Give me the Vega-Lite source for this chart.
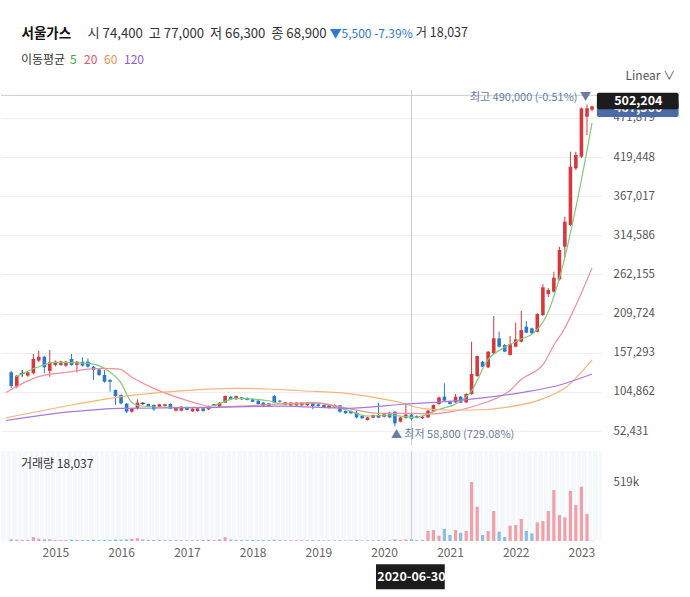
{
"$schema": "https://vega.github.io/schema/vega-lite/v6.json",
"padding": {"left": 0, "top": 26, "right": 0, "bottom": 0},
"background": "white",
"spacing": 4,
"config": {"font": "Noto Sans CJK KR", "view": {"stroke": null}},
"datasets": {
"candles": [
{"d":"2014-05-01","o":131000,"h":133000,"l":110000,"c":112700,"v":15000},
{"d":"2014-06-01","o":111800,"h":127500,"l":109600,"c":126600,"v":12000},
{"d":"2014-07-01","o":129500,"h":134200,"l":125200,"c":129500,"v":10000},
{"d":"2014-08-01","o":126600,"h":132000,"l":125000,"c":131000,"v":11000},
{"d":"2014-09-01","o":129700,"h":155600,"l":128500,"c":148900,"v":35000},
{"d":"2014-10-01","o":146700,"h":160100,"l":145000,"c":152000,"v":20000},
{"d":"2014-11-01","o":152000,"h":153000,"l":129700,"c":137700,"v":14000},
{"d":"2014-12-01","o":133000,"h":161000,"l":125000,"c":144500,"v":16000},
{"d":"2015-01-01","o":141000,"h":147000,"l":139000,"c":145300,"v":9000},
{"d":"2015-02-01","o":141000,"h":146500,"l":139500,"c":145500,"v":8000},
{"d":"2015-03-01","o":140000,"h":146000,"l":138500,"c":145300,"v":9000},
{"d":"2015-04-01","o":148900,"h":155600,"l":140000,"c":140900,"v":12000},
{"d":"2015-05-01","o":141000,"h":146000,"l":131000,"c":145300,"v":10000},
{"d":"2015-06-01","o":145300,"h":151100,"l":139000,"c":140000,"v":9000},
{"d":"2015-07-01","o":145300,"h":149800,"l":137500,"c":138600,"v":9000},
{"d":"2015-08-01","o":138600,"h":139500,"l":120800,"c":134200,"v":11000},
{"d":"2015-09-01","o":135000,"h":136000,"l":126000,"c":127500,"v":8000},
{"d":"2015-10-01","o":127500,"h":134200,"l":117000,"c":118500,"v":9000},
{"d":"2015-11-01","o":120800,"h":122000,"l":105100,"c":118500,"v":10000},
{"d":"2015-12-01","o":107400,"h":108000,"l":87300,"c":99300,"v":13000},
{"d":"2016-01-01","o":100700,"h":101500,"l":88000,"c":89500,"v":12000},
{"d":"2016-02-01","o":89000,"h":90000,"l":76500,"c":78300,"v":14000},
{"d":"2016-03-01","o":78300,"h":83500,"l":77000,"c":82800,"v":20000},
{"d":"2016-04-01","o":82800,"h":94900,"l":81000,"c":90400,"v":25000},
{"d":"2016-05-01","o":89500,"h":91000,"l":87500,"c":89500,"v":15000},
{"d":"2016-06-01","o":88600,"h":89000,"l":84500,"c":85000,"v":10000},
{"d":"2016-07-01","o":87300,"h":88000,"l":79700,"c":81500,"v":9000},
{"d":"2016-08-01","o":85000,"h":89000,"l":84000,"c":88200,"v":8000},
{"d":"2016-09-01","o":86000,"h":89000,"l":85000,"c":88200,"v":7000},
{"d":"2016-10-01","o":88600,"h":89500,"l":82000,"c":82400,"v":8000},
{"d":"2016-11-01","o":79700,"h":84000,"l":78500,"c":83700,"v":9000},
{"d":"2016-12-01","o":79700,"h":85500,"l":79000,"c":85000,"v":7000},
{"d":"2017-01-01","o":84000,"h":85000,"l":80000,"c":80600,"v":6000},
{"d":"2017-02-01","o":78800,"h":83000,"l":78000,"c":82400,"v":7000},
{"d":"2017-03-01","o":79200,"h":83500,"l":78500,"c":82800,"v":8000},
{"d":"2017-04-01","o":82800,"h":83500,"l":78500,"c":79200,"v":9000},
{"d":"2017-05-01","o":81500,"h":86500,"l":80500,"c":86000,"v":10000},
{"d":"2017-06-01","o":87300,"h":88500,"l":86000,"c":87300,"v":9000},
{"d":"2017-07-01","o":85000,"h":91000,"l":84500,"c":90400,"v":14000},
{"d":"2017-08-01","o":90400,"h":100000,"l":90000,"c":99300,"v":35000},
{"d":"2017-09-01","o":98400,"h":99500,"l":94000,"c":94900,"v":12000},
{"d":"2017-10-01","o":94900,"h":100000,"l":94500,"c":99300,"v":10000},
{"d":"2017-11-01","o":97500,"h":98000,"l":94000,"c":94900,"v":8000},
{"d":"2017-12-01","o":96600,"h":97500,"l":93500,"c":94000,"v":7000},
{"d":"2018-01-01","o":94900,"h":96000,"l":91000,"c":91700,"v":9000},
{"d":"2018-02-01","o":93100,"h":94000,"l":88000,"c":88600,"v":7000},
{"d":"2018-03-01","o":90400,"h":91000,"l":85500,"c":85900,"v":8000},
{"d":"2018-04-01","o":89500,"h":90000,"l":85500,"c":85900,"v":7000},
{"d":"2018-05-01","o":99300,"h":100700,"l":89500,"c":90400,"v":12000},
{"d":"2018-06-01","o":93000,"h":94000,"l":90500,"c":91700,"v":8000},
{"d":"2018-07-01","o":87700,"h":91500,"l":87000,"c":90800,"v":7000},
{"d":"2018-08-01","o":86800,"h":91000,"l":86000,"c":90400,"v":6000},
{"d":"2018-09-01","o":86800,"h":91000,"l":86000,"c":90400,"v":6000},
{"d":"2018-10-01","o":86800,"h":91000,"l":86000,"c":90400,"v":7000},
{"d":"2018-11-01","o":86800,"h":91000,"l":86000,"c":90400,"v":6000},
{"d":"2018-12-01","o":90400,"h":91000,"l":81500,"c":85900,"v":8000},
{"d":"2019-01-01","o":88200,"h":89000,"l":85000,"c":85900,"v":6000},
{"d":"2019-02-01","o":87300,"h":88000,"l":83500,"c":84100,"v":5000},
{"d":"2019-03-01","o":83200,"h":87500,"l":82500,"c":86800,"v":6000},
{"d":"2019-04-01","o":84100,"h":88000,"l":83500,"c":87300,"v":5000},
{"d":"2019-05-01","o":86800,"h":87500,"l":77000,"c":78300,"v":7000},
{"d":"2019-06-01","o":79200,"h":80000,"l":75500,"c":76100,"v":5000},
{"d":"2019-07-01","o":79200,"h":80000,"l":75500,"c":76100,"v":5000},
{"d":"2019-08-01","o":77000,"h":79700,"l":69400,"c":70700,"v":8000},
{"d":"2019-09-01","o":72500,"h":73500,"l":69000,"c":69400,"v":5000},
{"d":"2019-10-01","o":67200,"h":71500,"l":66500,"c":70700,"v":6000},
{"d":"2019-11-01","o":70300,"h":74500,"l":69500,"c":73900,"v":5000},
{"d":"2019-12-01","o":73900,"h":90400,"l":69800,"c":70300,"v":9000},
{"d":"2020-01-01","o":71600,"h":75500,"l":70500,"c":74800,"v":6000},
{"d":"2020-02-01","o":77000,"h":78000,"l":70000,"c":70700,"v":7000},
{"d":"2020-03-01","o":78300,"h":79000,"l":58800,"c":62700,"v":15000},
{"d":"2020-04-01","o":65000,"h":71500,"l":64000,"c":70700,"v":9000},
{"d":"2020-05-01","o":70000,"h":89500,"l":69000,"c":74400,"v":14000},
{"d":"2020-06-01","o":74400,"h":77000,"l":66300,"c":68900,"v":18037},
{"d":"2020-07-01","o":72500,"h":73500,"l":69500,"c":70300,"v":8000},
{"d":"2020-08-01","o":69400,"h":72500,"l":68500,"c":71600,"v":10000},
{"d":"2020-09-01","o":70700,"h":80500,"l":70000,"c":79700,"v":88000},
{"d":"2020-10-01","o":78300,"h":88000,"l":77500,"c":87300,"v":97000},
{"d":"2020-11-01","o":88600,"h":98500,"l":87500,"c":97500,"v":47000},
{"d":"2020-12-01","o":98400,"h":116300,"l":92500,"c":93100,"v":106000},
{"d":"2021-01-01","o":91700,"h":93000,"l":88000,"c":88600,"v":53000},
{"d":"2021-02-01","o":90800,"h":102000,"l":90000,"c":98400,"v":97000},
{"d":"2021-03-01","o":98400,"h":99500,"l":90000,"c":90400,"v":73000},
{"d":"2021-04-01","o":90800,"h":103000,"l":90000,"c":102000,"v":88000},
{"d":"2021-05-01","o":102000,"h":172100,"l":101000,"c":128800,"v":519000},
{"d":"2021-06-01","o":126100,"h":153500,"l":125000,"c":152900,"v":302000},
{"d":"2021-07-01","o":145300,"h":146500,"l":138000,"c":138600,"v":53000},
{"d":"2021-08-01","o":137700,"h":159500,"l":137000,"c":158700,"v":88000},
{"d":"2021-09-01","o":156500,"h":206500,"l":155500,"c":176600,"v":264000},
{"d":"2021-10-01","o":176600,"h":185500,"l":164500,"c":165400,"v":82000},
{"d":"2021-11-01","o":167700,"h":169000,"l":158000,"c":158700,"v":35000},
{"d":"2021-12-01","o":154300,"h":179700,"l":153500,"c":169000,"v":135000},
{"d":"2022-01-01","o":165400,"h":197600,"l":164500,"c":175200,"v":141000},
{"d":"2022-02-01","o":172100,"h":213200,"l":171500,"c":187800,"v":194000},
{"d":"2022-03-01","o":192200,"h":199800,"l":183500,"c":184200,"v":88000},
{"d":"2022-04-01","o":190000,"h":191000,"l":182500,"c":183300,"v":67000},
{"d":"2022-05-01","o":185500,"h":210000,"l":184500,"c":209200,"v":164000},
{"d":"2022-06-01","o":207800,"h":249000,"l":206500,"c":245000,"v":176000},
{"d":"2022-07-01","o":236000,"h":244000,"l":232000,"c":241300,"v":264000},
{"d":"2022-08-01","o":239100,"h":265900,"l":238000,"c":257900,"v":449000},
{"d":"2022-09-01","o":255600,"h":299400,"l":254000,"c":295000,"v":229000},
{"d":"2022-10-01","o":299400,"h":339600,"l":285000,"c":332900,"v":208000},
{"d":"2022-11-01","o":328500,"h":426700,"l":327000,"c":406600,"v":440000},
{"d":"2022-12-01","o":404400,"h":426700,"l":402200,"c":422300,"v":317000},
{"d":"2023-01-01","o":420000,"h":486000,"l":418000,"c":484800,"v":478000},
{"d":"2023-02-01","o":473600,"h":490000,"l":449100,"c":485000,"v":238000},
{"d":"2023-03-01","o":483000,"h":488500,"l":481000,"c":487500,"v":4000}
],
"ma": [
{"d":"2014-05-26","ma":"5","v":125200},{"d":"2014-09-30","ma":"5","v":138600},{"d":"2015-01-01","ma":"5","v":144500},{"d":"2015-06-29","ma":"5","v":143100},{"d":"2015-09-30","ma":"5","v":136400},{"d":"2016-01-02","ma":"5","v":116300},{"d":"2016-02-26","ma":"5","v":91700},{"d":"2016-04-20","ma":"5","v":85900},{"d":"2016-10-01","ma":"5","v":84200},{"d":"2017-03-29","ma":"5","v":84200},{"d":"2017-06-09","ma":"5","v":87300},{"d":"2017-09-27","ma":"5","v":96200},{"d":"2018-03-30","ma":"5","v":93000},{"d":"2018-06-10","ma":"5","v":88600},{"d":"2018-09-27","ma":"5","v":88600},{"d":"2018-12-07","ma":"5","v":90000},{"d":"2019-06-10","ma":"5","v":80600},{"d":"2019-09-28","ma":"5","v":72500},{"d":"2020-02-02","ma":"5","v":73900},{"d":"2020-06-06","ma":"5","v":70800},{"d":"2020-07-30","ma":"5","v":72500},{"d":"2020-11-01","ma":"5","v":81500},{"d":"2021-02-02","ma":"5","v":88600},{"d":"2021-04-28","ma":"5","v":105100},{"d":"2021-07-30","ma":"5","v":147600},{"d":"2021-11-01","ma":"5","v":164600},{"d":"2022-01-28","ma":"5","v":175300},{"d":"2022-04-13","ma":"5","v":184200},{"d":"2022-06-23","ma":"5","v":207900},{"d":"2022-09-03","ma":"5","v":259200},{"d":"2022-10-27","ma":"5","v":312300},{"d":"2022-12-21","ma":"5","v":375400},{"d":"2023-03-01","ma":"5","v":465000},
{"d":"2014-04-02","ma":"20","v":104000},{"d":"2014-09-30","ma":"20","v":125200},{"d":"2015-04-03","ma":"20","v":131900},{"d":"2015-06-29","ma":"20","v":135400},{"d":"2015-09-30","ma":"20","v":136400},{"d":"2015-12-25","ma":"20","v":135400},{"d":"2016-02-26","ma":"20","v":125200},{"d":"2016-06-30","ma":"20","v":109600},{"d":"2016-11-25","ma":"20","v":96200},{"d":"2017-03-29","ma":"20","v":87300},{"d":"2017-05-23","ma":"20","v":84200},{"d":"2017-12-28","ma":"20","v":86600},{"d":"2018-06-10","ma":"20","v":88600},{"d":"2018-12-07","ma":"20","v":90400},{"d":"2019-06-10","ma":"20","v":82800},{"d":"2019-12-08","ma":"20","v":76100},{"d":"2020-06-06","ma":"20","v":76100},{"d":"2020-09-07","ma":"20","v":75200},{"d":"2021-01-11","ma":"20","v":78300},{"d":"2021-06-06","ma":"20","v":87300},{"d":"2021-07-30","ma":"20","v":91700},{"d":"2021-12-04","ma":"20","v":107400},{"d":"2022-01-28","ma":"20","v":120800},{"d":"2022-06-07","ma":"20","v":143100},{"d":"2022-08-01","ma":"20","v":167600},{"d":"2022-09-25","ma":"20","v":187800},{"d":"2022-11-19","ma":"20","v":214600},{"d":"2023-03-01","ma":"20","v":271000},
{"d":"2014-04-02","ma":"60","v":70000},{"d":"2015-04-03","ma":"60","v":87300},{"d":"2016-01-02","ma":"60","v":98400},{"d":"2016-10-01","ma":"60","v":105100},{"d":"2017-09-27","ma":"60","v":109600},{"d":"2018-03-30","ma":"60","v":108700},{"d":"2018-09-27","ma":"60","v":106400},{"d":"2019-06-10","ma":"60","v":102900},{"d":"2020-03-10","ma":"60","v":91700},{"d":"2020-07-30","ma":"60","v":82800},{"d":"2020-12-09","ma":"60","v":80600},{"d":"2021-04-28","ma":"60","v":80600},{"d":"2021-12-04","ma":"60","v":85000},{"d":"2022-06-07","ma":"60","v":96200},{"d":"2022-10-11","ma":"60","v":111800},{"d":"2023-03-01","ma":"60","v":147600},
{"d":"2014-04-02","ma":"120","v":66500},{"d":"2015-04-03","ma":"120","v":78300},{"d":"2016-01-02","ma":"120","v":82800},{"d":"2017-03-29","ma":"120","v":83700},{"d":"2018-06-10","ma":"120","v":85900},{"d":"2019-06-10","ma":"120","v":82800},{"d":"2020-05-03","ma":"120","v":88600},{"d":"2020-12-09","ma":"120","v":91700},{"d":"2021-06-06","ma":"120","v":96200},{"d":"2022-03-05","ma":"120","v":105100},{"d":"2022-09-03","ma":"120","v":114100},{"d":"2023-03-01","ma":"120","v":128800}
],
"cross": [{"d":"2020-06-01","p":502204}]
},
"vconcat": [
{
"width": 600, "height": 355,
"title": {"text": "거 18,037", "anchor": "start", "dx": 415, "dy": 13, "fontSize": 12.5, "fontWeight": "normal", "color": "#333333", "offset": 0},
"layer": [
{"data": {"name": "cross"}, "mark": {"type": "rule", "color": "#c9ced6", "strokeWidth": 1},
 "encoding": {"x": {"field": "d", "type": "temporal", "scale": {"type": "utc", "domain": [{"year":2014,"month":4,"date":2,"utc":true},{"year":2023,"month":3,"date":23,"utc":true}]}, "axis": null}}},
{"data": {"name": "cross"}, "mark": {"type": "rule", "color": "#c9ced6", "strokeWidth": 1},
 "encoding": {"y": {"field": "p", "type": "quantitative", "scale": {"domain": [33670, 509400], "nice": false, "zero": false}, "axis": null}}},
{"data": {"name": "candles"}, "mark": {"type": "rule", "strokeWidth": 1},
 "encoding": {
  "x": {"field": "d", "type": "temporal", "scale": {"type": "utc", "domain": [{"year":2014,"month":4,"date":2,"utc":true},{"year":2023,"month":3,"date":23,"utc":true}]},
        "axis": {"orient": "top", "labels": false, "ticks": false, "domain": false, "grid": false, "title": "서울가스", "titleX": 20, "titleY": -57, "titleAlign": "left", "titleBaseline": "middle", "titleAngle": 0, "titleFontSize": 13.5, "titleFontWeight": "bold", "titleColor": "#111111"}},
  "y": {"field": "l", "type": "quantitative", "scale": {"domain": [33670, 509400], "nice": false, "zero": false},
        "axis": {"orient": "right", "values": [52431,104862,157293,209724,262155,314586,367017,419448,471879], "format": ",d", "labelColor": "#555555", "labelFontSize": 11.5, "ticks": false, "domain": false, "labelPadding": 12, "grid": true, "gridColor": "#eeeeee", "title": "Linear ∨", "titleX": 24, "titleY": -15, "titleAngle": 0, "titleAlign": "left", "titleBaseline": "middle", "titleFontSize": 12, "titleFontWeight": "normal", "titleColor": "#555555"}},
  "y2": {"field": "h"},
  "color": {"condition": [{"test": "datum.c > datum.o", "value": "#d6383d"}, {"test": "datum.c < datum.o", "value": "#2e78cc"}], "value": "#222222"}
 }},
{"data": {"name": "candles"}, "mark": {"type": "bar", "width": 3.6},
 "encoding": {
  "x": {"field": "d", "type": "temporal", "scale": {"type": "utc", "domain": [{"year":2014,"month":4,"date":2,"utc":true},{"year":2023,"month":3,"date":23,"utc":true}]},
        "axis": {"orient": "bottom", "labels": false, "ticks": false, "domain": false, "grid": false, "title": "시 74,400\u00a0 고 77,000\u00a0 저 66,300\u00a0 종 68,900", "titleX": 86, "titleY": -412, "titleAlign": "left", "titleBaseline": "middle", "titleAngle": 0, "titleFontSize": 13.2, "titleFontWeight": "normal", "titleColor": "#333333"}},
  "y": {"field": "o", "type": "quantitative", "scale": {"domain": [33670, 509400], "nice": false, "zero": false},
        "axis": {"orient": "left", "labels": false, "ticks": false, "domain": false, "grid": false, "title": "▼5,500 -7.39%", "titleX": 328, "titleY": -57, "titleAngle": 0, "titleAlign": "left", "titleBaseline": "middle", "titleFontSize": 12, "titleFontWeight": "normal", "titleColor": "#2f7ad0"}},
  "y2": {"field": "c"},
  "color": {"condition": [{"test": "datum.c > datum.o", "value": "#d6383d"}, {"test": "datum.c < datum.o", "value": "#2e78cc"}], "value": "#222222"}
 }},
{"data": {"name": "candles"}, "transform": [{"filter": "datum.o == datum.c"}], "mark": {"type": "tick", "orient": "horizontal", "size": 5, "thickness": 1.2, "color": "#222222"},
 "encoding": {
  "x": {"field": "d", "type": "temporal", "axis": null},
  "y": {"field": "c", "type": "quantitative", "axis": null}
 }},
{"data": {"name": "ma"}, "mark": {"type": "line", "interpolate": "monotone", "strokeWidth": 1.2, "clip": true},
 "encoding": {
  "x": {"field": "d", "type": "temporal", "axis": null},
  "y": {"field": "v", "type": "quantitative", "axis": null},
  "color": {"field": "ma", "type": "nominal", "sort": ["5","20","60","120"],
   "scale": {"domain": ["5","20","60","120"], "range": ["#7ccc78","#f0909a","#f5b57c","#a878e0"]},
   "legend": {"orient": "none", "legendX": 20, "legendY": -36, "direction": "horizontal", "title": "이동평균", "titleOrient": "left", "titleFontSize": 12, "titleFontWeight": "normal", "titleColor": "#333333", "titlePadding": 6,
     "symbolSize": 0, "symbolStrokeWidth": 0, "symbolOpacity": 0, "labelOffset": -14, "columnPadding": 6, "labelFontSize": 12,
     "labelColor": {"expr": "datum.value == '5' ? '#3fa33f' : datum.value == '20' ? '#e5535b' : datum.value == '60' ? '#e8924f' : '#8a5bd4'"}}}
 }},
{"data": {"values": [{"d":"2023-02-01","p":490000,"t":"최고 490,000 (-0.51%) ▼"}]}, "mark": {"type": "text", "align": "right", "baseline": "bottom", "dx": 4, "dy": -1, "fontSize": 11, "color": "#6b7ca0"},
 "encoding": {"x": {"field": "d", "type": "temporal", "axis": null}, "y": {"field": "p", "type": "quantitative", "axis": null}, "text": {"field": "t"}}},
{"data": {"values": [{"d":"2020-03-01","p":58800,"t":"▲ 최저 58,800 (729.08%)"}]}, "mark": {"type": "text", "align": "left", "baseline": "top", "dx": -4, "dy": 3, "fontSize": 11, "color": "#6b7ca0"},
 "encoding": {"x": {"field": "d", "type": "temporal", "axis": null}, "y": {"field": "p", "type": "quantitative", "axis": null}, "text": {"field": "t"}}},
{"data": {"values": [{}]}, "mark": {"type": "rect", "color": "#4a6aa8", "cornerRadius": 2},
 "encoding": {"x": {"datum": {"year":2023,"month":3,"date":28,"utc":true}, "type": "temporal", "axis": null}, "x2": {"datum": {"year":2024,"month":6,"date":24,"utc":true}},
  "y": {"datum": 494631, "type": "quantitative", "axis": null}, "y2": {"datum": 473191}}},
{"data": {"values": [{}]}, "mark": {"type": "text", "color": "white", "fontSize": 12.5, "fontWeight": "bold", "text": "487,500"},
 "encoding": {"x": {"datum": {"year":2023,"month":11,"date":13,"utc":true}, "type": "temporal", "axis": null}, "y": {"datum": 485251, "type": "quantitative", "axis": null}}},
{"data": {"values": [{}]}, "mark": {"type": "rect", "color": "#1c1c1c", "cornerRadius": 2},
 "encoding": {"x": {"datum": {"year":2023,"month":3,"date":28,"utc":true}, "type": "temporal", "axis": null}, "x2": {"datum": {"year":2024,"month":6,"date":24,"utc":true}},
  "y": {"datum": 505753, "type": "quantitative", "axis": null}, "y2": {"datum": 483509}}},
{"data": {"values": [{}]}, "mark": {"type": "text", "color": "white", "fontSize": 12.5, "fontWeight": "bold", "text": "502,204"},
 "encoding": {"x": {"datum": {"year":2023,"month":11,"date":13,"utc":true}, "type": "temporal", "axis": null}, "y": {"datum": 494631, "type": "quantitative", "axis": null}}}
],
"resolve": {"axis": {"x": "independent", "y": "independent"}}
},
{
"width": 600, "height": 90,
"view": {"fill": "#f4f7fb"},
"title": {"text": "거래량 18,037", "anchor": "start", "dx": 20, "dy": 20, "fontSize": 12, "fontWeight": "normal", "color": "#333333", "offset": 0},
"layer": [
{"data": {"name": "candles"}, "mark": {"type": "bar", "width": 3.2},
 "encoding": {
  "x": {"field": "d", "type": "temporal", "scale": {"type": "utc", "domain": [{"year":2014,"month":4,"date":2,"utc":true},{"year":2023,"month":3,"date":23,"utc":true}]},
        "axis": {"orient": "bottom", "tickCount": {"interval": "month", "step": 1}, "labelExpr": "utcmonth(datum.value) == 0 ? utcFormat(datum.value, '%Y') : ''", "ticks": false, "domain": false, "grid": true, "gridColor": "#ffffff", "gridWidth": 1.5, "labelOverlap": false, "labelFlush": false, "labelBound": false, "labelPadding": 6, "labelColor": "#666666", "labelFontSize": 12, "title": null}},
  "y": {"field": "v", "type": "quantitative", "scale": {"domain": [0, 791700], "nice": false},
        "axis": {"orient": "right", "values": [519000], "format": "~s", "ticks": false, "domain": false, "grid": false, "labelPadding": 12, "labelColor": "#555555", "labelFontSize": 11.5, "title": null}},
  "color": {"condition": [{"test": "datum.c > datum.o", "value": "#f0a1a7"}, {"test": "datum.c < datum.o", "value": "#8dbde6"}], "value": "#bbbbbb"}
 }},
{"data": {"name": "cross"}, "mark": {"type": "rule", "color": "#c9ced6", "strokeWidth": 1},
 "encoding": {"x": {"field": "d", "type": "temporal", "axis": null}}},
{"data": {"values": [{}]}, "mark": {"type": "rect", "color": "#1c1c1c"},
 "encoding": {"x": {"datum": {"year":2019,"month":11,"date":17,"utc":true}, "type": "temporal", "axis": null}, "x2": {"datum": {"year":2020,"month":12,"date":3,"utc":true}},
  "y": {"datum": -205000, "type": "quantitative", "axis": null}, "y2": {"datum": -425000}}},
{"data": {"name": "cross"}, "mark": {"type": "text", "color": "white", "fontSize": 12.5, "fontWeight": "bold", "text": "2020-06-30"},
 "encoding": {"x": {"field": "d", "type": "temporal", "axis": null}, "y": {"datum": -315000, "type": "quantitative", "axis": null}}}
],
"resolve": {"axis": {"x": "independent", "y": "independent"}}
}
]
}
